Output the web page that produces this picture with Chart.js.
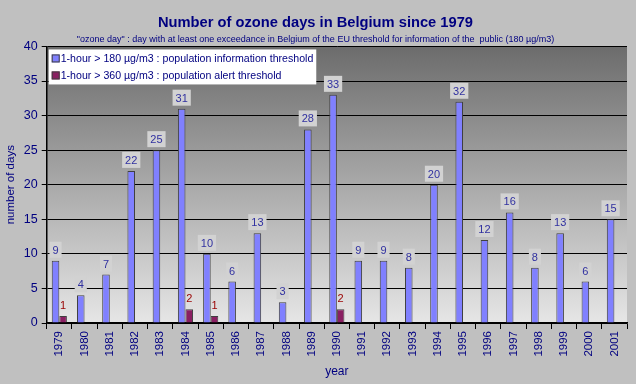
<!DOCTYPE html>
<html>
<head>
<meta charset="utf-8">
<script src="https://cdn.jsdelivr.net/npm/chart.js@4/dist/chart.umd.min.js"></script>
<style>
  html, body { margin: 0; padding: 0; background: #c0c0c0; }
  #wrap { width: 636px; height: 384px; }
</style>
</head>
<body>
<div id="wrap"><canvas id="myChart" width="636" height="384"></canvas></div>
<script>
var years = ['1979', '1980', '1981', '1982', '1983', '1984', '1985', '1986', '1987', '1988', '1989', '1990',
             '1991', '1992', '1993', '1994', '1995', '1996', '1997', '1998', '1999', '2000', '2001'];
var infoDays = [9, 4, 7, 22, 25, 31, 10, 6, 13, 3, 28, 33, 9, 9, 8, 20, 32, 12, 16, 8, 13, 6, 15];
var alertDays = [1, 0, 0, 0, 0, 2, 1, 0, 0, 0, 0, 2, 0, 0, 0, 0, 0, 0, 0, 0, 0, 0, 0];
var yTicks = [0, 5, 10, 15, 20, 25, 30, 35, 40];

var navy = '#000080';
var fontFam = 'Arial, "Liberation Sans", sans-serif';

// gray gradient behind the bars
var plotBackground = {
    id: 'plotBackground',
    beforeDraw: function(chart) {
        var a = chart.chartArea, ctx = chart.ctx;
        var g = ctx.createLinearGradient(0, a.top, 0, a.bottom);
        g.addColorStop(0, '#6c6c6c');
        g.addColorStop(1, '#e6e6e6');
        ctx.save();
        ctx.fillStyle = g;
        ctx.fillRect(a.left, a.top, a.right - a.left, a.bottom - a.top);
        ctx.restore();
    }
};

// value labels above the bars
var barLabels = {
    id: 'barLabels',
    afterDatasetsDraw: function(chart) {
        var ctx = chart.ctx;
        ctx.save();
        ctx.font = '11px ' + fontFam;
        ctx.textAlign = 'center';
        ctx.textBaseline = 'middle';
        chart.data.datasets.forEach(function(ds, i) {
            chart.getDatasetMeta(i).data.forEach(function(bar, j) {
                var v = ds.data[j];
                if (!v) return;
                var txt = String(v);
                var w = ctx.measureText(txt).width + 6;
                var cy = bar.y - 11;
                if (i === 0) {
                    ctx.fillStyle = '#d2d2d2';
                    ctx.fillRect(bar.x - w / 2, cy - 8, w, 16);
                    ctx.fillStyle = '#3030a0';
                } else {
                    ctx.fillStyle = '#990000';
                }
                ctx.fillText(txt, bar.x, cy + 1);
            });
        });
        ctx.restore();
    }
};

// legend box inside the plot, top left
var boxLegend = {
    id: 'boxLegend',
    afterDraw: function(chart) {
        var a = chart.chartArea, ctx = chart.ctx;
        var x = a.left + 2, y = a.top + 3;
        ctx.save();
        ctx.font = '10.6px ' + fontFam;
        var maxW = 0;
        chart.data.datasets.forEach(function(ds) {
            maxW = Math.max(maxW, ctx.measureText(ds.label).width);
        });
        ctx.fillStyle = '#ffffff';
        ctx.fillRect(x, y, maxW + 15, 35);
        ctx.textBaseline = 'middle';
        chart.data.datasets.forEach(function(ds, i) {
            var ly = y + 9 + i * 17;
            ctx.fillStyle = ds.backgroundColor;
            ctx.fillRect(x + 3, ly - 4, 8, 8);
            ctx.strokeStyle = '#404040';
            ctx.lineWidth = 1;
            ctx.strokeRect(x + 3.5, ly - 3.5, 7, 7);
            ctx.fillStyle = navy;
            ctx.fillText(ds.label, x + 12, ly + 1);
        });
        ctx.restore();
    }
};

var ctx = document.getElementById('myChart').getContext('2d');
var myChart = new Chart(ctx, {
    type: 'bar',
    data: {
        labels: years,
        datasets: [
            {
                label: '1-hour > 180 \u00b5g/m3 : population information threshold',
                data: infoDays,
                backgroundColor: '#8080ff',
                borderColor: '#404040',
                borderWidth: 1
            },
            {
                label: '1-hour > 360 \u00b5g/m3 : population alert threshold',
                data: alertDays,
                backgroundColor: '#8a1f62',
                borderColor: '#404040',
                borderWidth: 1
            }
        ]
    },
    options: {
        responsive: false,
        animation: false,
        layout: { padding: { left: 4, right: 9, top: 0, bottom: 5 } },
        datasets: {
            bar: { categoryPercentage: 0.6, barPercentage: 1.0 }
        },
        scales: {
            x: {
                grid: { drawOnChartArea: false, color: '#000', tickLength: 6, offset: true },
                border: { color: '#000', width: 1.5 },
                ticks: {
                    color: navy,
                    font: { size: 11.5, family: fontFam },
                    minRotation: 90, maxRotation: 90, padding: 2, autoSkip: false
                },
                title: {
                    display: true, text: 'year', color: navy,
                    font: { size: 12, family: fontFam },
                    padding: { top: 6, bottom: 0 }
                }
            },
            y: {
                min: 0, max: 40,
                afterBuildTicks: function(scale) {
                    scale.ticks = yTicks.map(function(v) { return { value: v }; });
                },
                grid: { color: '#000', tickLength: 5, lineWidth: 1 },
                border: { color: '#000', width: 1.5 },
                ticks: {
                    color: navy,
                    font: { size: 12.5, family: fontFam },
                    padding: 4
                },
                title: {
                    display: true, text: 'number of days', color: navy,
                    font: { size: 11.5, family: fontFam },
                    padding: { top: 0, bottom: 2 }
                }
            }
        },
        plugins: {
            legend: { display: false },
            tooltip: { enabled: false },
            title: {
                display: true,
                text: 'Number of ozone days in Belgium since 1979',
                color: navy,
                font: { size: 14.7, weight: 'bold', family: fontFam },
                padding: { top: 14, bottom: 2 }
            },
            subtitle: {
                display: true,
                text: '"ozone day" : day with at least one exceedance in Belgium of the EU threshold for information of the  public (180 \u00b5g/m3)',
                color: navy,
                font: { size: 9, family: fontFam },
                padding: { top: 0, bottom: 2 }
            }
        }
    },
    plugins: [plotBackground, barLabels, boxLegend]
});
</script>
</body>
</html>
